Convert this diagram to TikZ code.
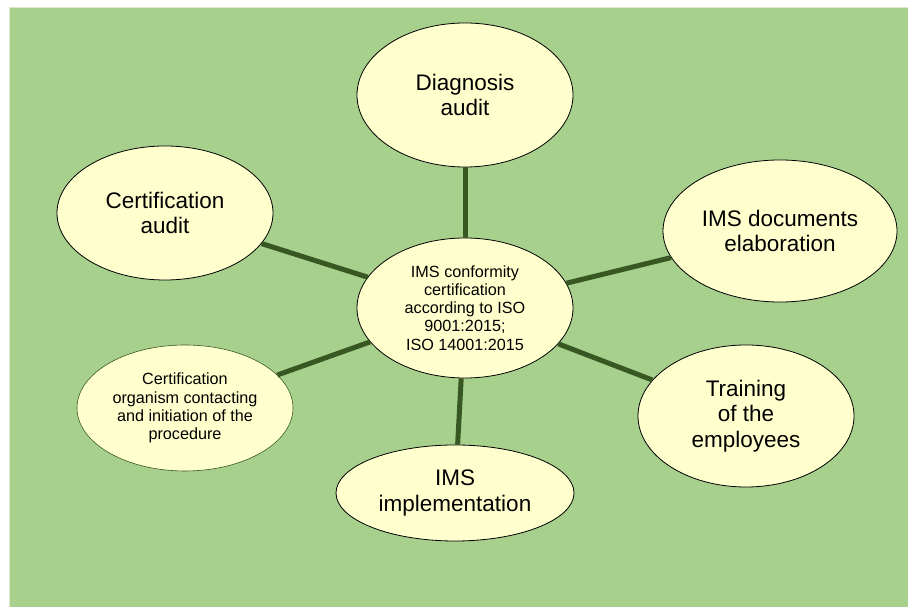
\documentclass[tikz,border=0pt]{standalone}
\usepackage{fontspec}
\setmainfont{Liberation Sans}
\usepackage{xcolor}
\usetikzlibrary{shapes.geometric}

\definecolor{bggreen}{RGB}{168,208,141}
\definecolor{bgframe}{RGB}{222,230,204}
\definecolor{pale}{RGB}{255,255,206}
\definecolor{spokegreen}{RGB}{56,87,35}

\begin{document}
\begin{tikzpicture}[x=1pt,y=1pt,
  bubble/.style={ellipse,draw=black,thick,fill=pale,inner sep=0pt,align=center,
    font=\fontsize{22.5}{25.5}\selectfont},
  smallbubble/.style={bubble,font=\fontsize{16.2}{18.2}\selectfont},
  spoke/.style={spokegreen,line width=5pt}]
\useasboundingbox (0,0) rectangle (908,607);
\fill[bggreen] (9,0) rectangle (908,600);
\draw[bgframe,line width=1.2pt] (9.5,0) -- (9.5,599.5) -- (908,599.5);
% hub and the six steps
\node[smallbubble,minimum width=216pt,minimum height=140pt] (hub) at (465,299)
  {IMS conformity\\certification\\according to ISO\\9001:2015;\\ISO 14001:2015};
\node[bubble,minimum width=216pt,minimum height=144pt] (diag) at (465,512) {Diagnosis\\audit};
\node[bubble,minimum width=234pt,minimum height=142pt] (docs) at (780,376) {IMS documents\\elaboration};
\node[bubble,minimum width=216pt,minimum height=142pt] (train) at (746,191) {Training\\of the\\employees};
\node[bubble,minimum width=238pt,minimum height=96pt] (impl) at (455,114) {IMS\\implementation};
\node[smallbubble,draw=spokegreen,semithick,minimum width=216pt,minimum height=126pt] (orgc) at (185,199)
  {Certification\\organism contacting\\and initiation of the\\procedure};
\node[bubble,minimum width=216pt,minimum height=134pt] (caudit) at (165,394) {Certification\\audit};
% spokes
\draw[spoke] (hub) -- (diag);
\draw[spoke] (hub) -- (docs);
\draw[spoke] (hub) -- (train);
\draw[spoke] (hub) -- (impl);
\draw[spoke] (hub) -- (orgc);
\draw[spoke] (hub) -- (caudit);
\end{tikzpicture}
\end{document}
